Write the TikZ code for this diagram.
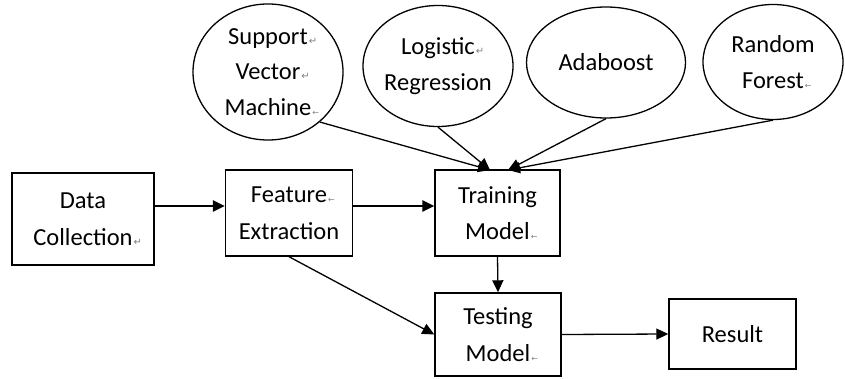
\documentclass[tikz,border=0pt]{standalone}
\usepackage{fontspec}
\setmainfont{Carlito}
\newfontfamily\symfont{DejaVu Sans}
\usetikzlibrary{arrows.meta,shapes.geometric}
\newcommand{\retmark}{\rlap{\kern1pt{\symfont\fontsize{10}{10}\selectfont\color{gray}↵}}}
\newcommand{\lmark}{\rlap{\kern1pt{\symfont\fontsize{8}{8}\selectfont\color{gray}←}}}

\begin{document}
\begin{tikzpicture}[x=1pt, y=-1pt,
    box/.style = {draw, line width=1.4pt, inner sep=0pt, align=center, font=\fontsize{24.5}{36.5}\selectfont},
    oval/.style = {draw, ellipse, line width=1.3pt, inner sep=-6pt, align=center, font=\fontsize{24.5}{35.5}\selectfont},
    arr/.style = {-{Triangle[length=12pt,width=11pt]}, line width=1.3pt},
    boldarr/.style = {arr, line width=2.6pt}]

    \useasboundingbox (0,0) rectangle (845,379);

    % boxes
    \node[box, minimum width=142pt, minimum height=92pt] (1) at (83,219) {Data\\Collection\retmark};
    \node[box, minimum width=127pt, minimum height=86pt] (2) at (289,213) {Feature\lmark\\Extraction};
    \node[box, minimum width=125pt, minimum height=86pt] (3) at (497.5,213) {Training\\Model\lmark};
    \node[box, minimum width=126pt, minimum height=83pt] (4) at (498,334.5) {Testing\\Model\lmark};
    \node[box, minimum width=127pt, minimum height=70pt] (5) at (732.5,334) {Result};

    % classifiers
    \node[oval, minimum width=150pt, minimum height=136pt] (6) at (268,72) {Support\retmark\\Vector\retmark\\Machine\lmark};
    \node[oval, minimum width=150pt, minimum height=121pt] (7) at (438,66) {Logistic\retmark\\Regression};
    \node[oval, minimum width=159pt, minimum height=111pt] (8) at (606,62.5) {Adaboost};
    \node[oval, minimum width=140pt, minimum height=115pt] (9) at (773,62) {Random\\Forest\lmark};

    \coordinate (t1) at (490,170);
    \coordinate (t2) at (508,170);

    \draw[arr] (6.-44) -- (t1);
    \draw[arr] (7.south) -- (t1);
    \draw[arr] (8.south) -- (t2);
    \draw[arr] (9.south) -- (t2);

    \draw[boldarr] ([yshift=13pt]1.east) -- ([yshift=7pt]2.west);
    \draw[boldarr] ([yshift=7pt]2.east) -- ([yshift=7pt]3.west);
    \draw[arr] (3.south) -- (4.north);
    \draw[arr] (2.south) -- (4.west);
    \draw[arr] (4.east) -- (5.west);

\end{tikzpicture}
\end{document}
